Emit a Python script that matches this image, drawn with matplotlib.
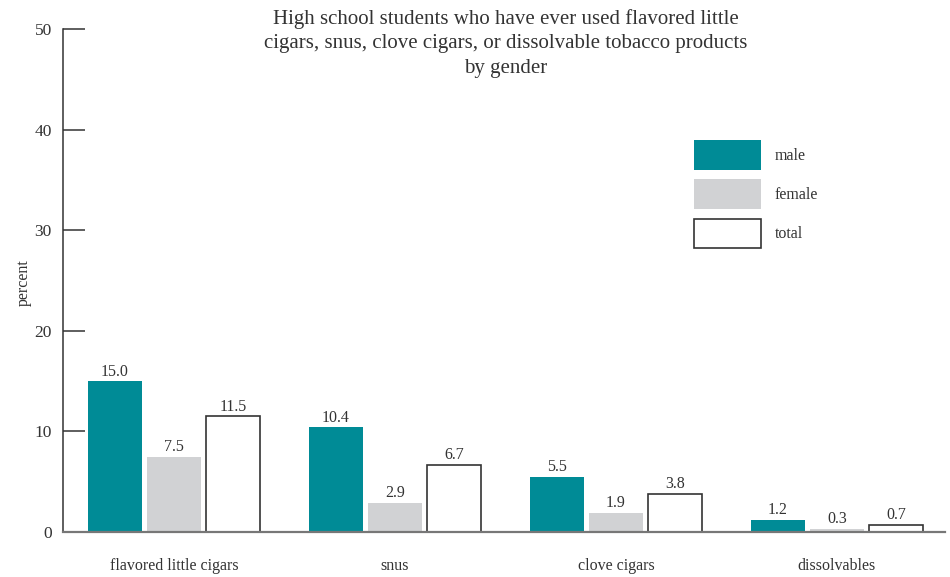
import numpy as np
import matplotlib.pyplot as plt

categories = ["flavored little cigars", "snus", "clove cigars", "dissolvables"]
male = [15.0, 10.4, 5.5, 1.2]
female = [7.5, 2.9, 1.9, 0.3]
total = [11.5, 6.7, 3.8, 0.7]
series = ["male", "female", "total"]
yticks = [0, 10, 20, 30, 40, 50]

plt.rcParams['font.family'] = ['Liberation Serif', 'DejaVu Serif']

teal = "#008b96"
grey = "#d1d2d4"
dark = "#333333"

fig = plt.figure(figsize=(9.5, 5.77), dpi=100)
ax = fig.add_axes([63/950, 45/577, 882/950, 503/577])

x = np.arange(len(categories))
w = 54/221
step = 59/221

b1 = ax.bar(x - step, male, w, color=teal, label=series[0])
b2 = ax.bar(x, female, w, color=grey, label=series[1])
b3 = ax.bar(x + step, total, w, color="white", edgecolor=dark, linewidth=1.2, label=series[2])

for bars, vals in [(b1, male), (b2, female), (b3, total)]:
    for b, v in zip(bars, vals):
        ax.text(b.get_x() + b.get_width()/2, v + 0.15, f"{v:.1f}",
                ha="center", va="bottom", fontsize=11.5, color=dark)

ax.set_xlim(-0.502, 3.489)
ax.set_ylim(0, 50)
ax.set_yticks(yticks)
ax.set_xticks(x)
ax.set_xticklabels(categories)
ax.tick_params(axis="y", direction="in", length=16, width=1.1, color=dark,
               pad=8, labelsize=12.5, labelcolor=dark)
ax.tick_params(axis="x", length=0, pad=19, labelsize=11.5, labelcolor=dark)

for s in ["top", "right"]:
    ax.spines[s].set_visible(False)
ax.spines["left"].set_color(dark)
ax.spines["left"].set_linewidth(1.1)
ax.spines["bottom"].set_color("#777777")
ax.spines["bottom"].set_linewidth(1.6)

ax.set_ylabel("percent", fontsize=11.5, color=dark)
ax.yaxis.set_label_coords(-0.035, 0.495)

fig.text(0.532, 0.985, "High school students who have ever used flavored little\n"
         "cigars, snus, clove cigars, or dissolvable tobacco products\nby gender",
         ha="center", va="top", fontsize=15, color=dark, linespacing=1.4)

ax.legend(loc="upper left", bbox_to_anchor=(0.7154, 0.779), frameon=False,
          borderpad=0, borderaxespad=0, handlelength=4.2, handleheight=2.45,
          labelspacing=0.62, handletextpad=0.85, fontsize=11.5, labelcolor=dark)

plt.savefig("out.png", dpi=100)
